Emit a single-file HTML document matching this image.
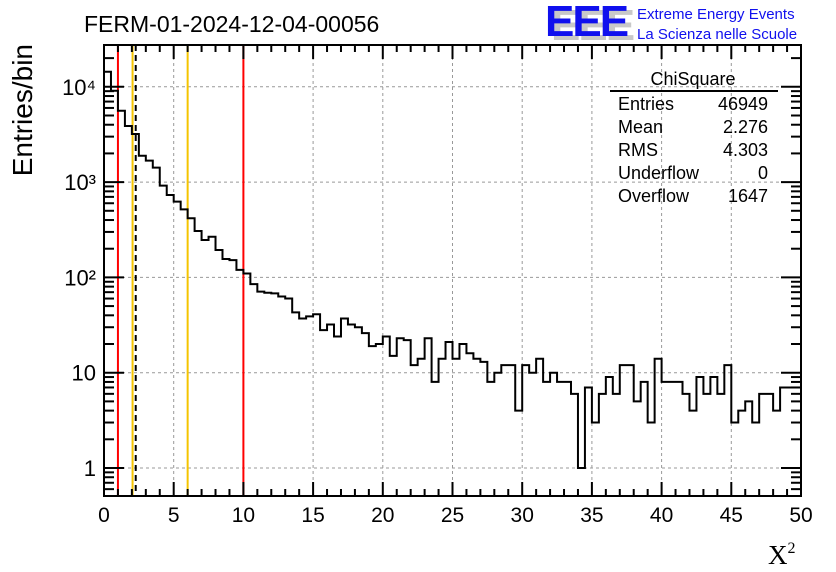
<!DOCTYPE html>
<html><head><meta charset="utf-8"><style>
body{margin:0;background:#fff;}
svg{display:block;font-family:"Liberation Sans",sans-serif;}
</style></head><body>
<svg id="c" width="836" height="572">
<text x="84" y="32" font-size="23">FERM-01-2024-12-04-00056</text>
<g>
<text x="551" y="40" font-size="44" font-weight="bold" fill="#c8c8c8" letter-spacing="-2">EEE</text>
<text x="545" y="36" font-size="44" font-weight="bold" fill="#1010ee" letter-spacing="-2">EEE</text>
<text x="637" y="19" font-size="15" fill="#1010ee">Extreme Energy Events</text>
<text x="637" y="39" font-size="15" fill="#1010ee">La Scienza nelle Scuole</text>
</g>
<text x="32" y="44" font-size="28" transform="rotate(-90 32 44)" text-anchor="end">Entries/bin</text>
<text x="768" y="564" font-size="27" font-family="Liberation Serif,serif">X<tspan font-size="16" dy="-11">2</tspan></text>
<g id="grid"></g><g id="lines"></g><g id="hist"></g><g id="axes"></g>
<g font-size="18">
<text x="693" y="85" text-anchor="middle">ChiSquare</text>
<line x1="610" y1="91" x2="778" y2="91" stroke="#000" stroke-width="2"/>
<text x="618" y="110">Entries</text><text x="768" y="110" text-anchor="end">46949</text>
<text x="618" y="133">Mean</text><text x="768" y="133" text-anchor="end">2.276</text>
<text x="618" y="156">RMS</text><text x="768" y="156" text-anchor="end">4.303</text>
<text x="618" y="179">Underflow</text><text x="768" y="179" text-anchor="end">0</text>
<text x="618" y="202">Overflow</text><text x="768" y="202" text-anchor="end">1647</text>
</g>
</svg>
<script>
const counts=[14400,9100,5600,3880,3200,1890,1680,1420,917,732,623,518,417,307,247,267,194,156,152,120,110,85,71,69,68,63,60,43,37,39,41,28,32,24,37,32,30,26,19,20,24,15,23,22,12,14,23,8,14,21,14,20,16,14,13,8,10,12,12,4,12,10,14,8,10,8,8,6,1,7,3,6,9,6,12,12,5,8,3,14,8,8,8,6,4,9,6,9,6,12,3,4,5,3,6,6,4,7,7,7];
const binWidth=0.5;
const xTicks=[0,5,10,15,20,25,30,35,40,45,50];
const yTickVals=[1,10,100,1000,10000];
const yTickLabels=["1","10","10²","10³","10⁴"];
const cutLines=[1,10];
const yellowLines=[2.05,6];
const meanVal=2.276;
const X0=104,X1=801,Y0=496,Y1=45;
const xs=v=>X0+(X1-X0)*v/50;
const ys=v=>468-95.3*Math.log10(v);
const NS="http://www.w3.org/2000/svg";
function mk(p,t,a){const e=document.createElementNS(NS,t);for(const k in a)e.setAttribute(k,a[k]);p.appendChild(e);return e;}
const grid=document.getElementById('grid'),lines=document.getElementById('lines'),hist=document.getElementById('hist'),axes=document.getElementById('axes');
xTicks.forEach(t=>{if(t>0&&t<50){const l=mk(grid,'line',{x1:xs(t),x2:xs(t),y1:Y1,y2:Y0,stroke:'#999','stroke-dasharray':'3,3'});

}});
yTickVals.forEach(v=>{const l=mk(grid,'line',{x1:X0,x2:X1,y1:ys(v),y2:ys(v),stroke:'#999','stroke-dasharray':'3,3'});

});
cutLines.forEach(v=>{const l=mk(lines,'line',{x1:xs(v),x2:xs(v),y1:Y1,y2:Y0,stroke:'#f00','stroke-width':2});

});
yellowLines.forEach(v=>{const l=mk(lines,'line',{x1:xs(v),x2:xs(v),y1:Y1,y2:Y0,stroke:'#f5c400','stroke-width':2});

});
const ml=mk(lines,'line',{x1:xs(meanVal),x2:xs(meanVal),y1:Y1,y2:Y0,stroke:'#000','stroke-width':2,'stroke-dasharray':'6,4'});


let d='M'+xs(0)+','+Y0;
counts.forEach((c,i)=>{const y=Math.min(Y0,ys(c));d+=' L'+xs(i*binWidth)+','+y+' L'+xs((i+1)*binWidth)+','+y;});
const hp=mk(hist,'path',{d:d,fill:'none',stroke:'#000','stroke-width':2});


const fr=mk(axes,'rect',{x:X0,y:Y1,width:X1-X0,height:Y0-Y1,fill:'none',stroke:'#000','stroke-width':2});


for(let v=0;v<=50;v+=1){const big=v%5===0,h=big?14:7;
mk(axes,'line',{x1:xs(v),x2:xs(v),y1:Y0,y2:Y0-h,stroke:'#000','stroke-width':2});
mk(axes,'line',{x1:xs(v),x2:xs(v),y1:Y1,y2:Y1+h,stroke:'#000','stroke-width':2});}
xTicks.forEach(t=>{const tx=mk(axes,'text',{x:xs(t),y:522,'font-size':21,'text-anchor':'middle'});tx.textContent=t;

});
for(let e=-1;e<=4;e++)for(let m=1;m<10;m++){const v=m*Math.pow(10,e);const y=ys(v);if(y<Y1||y>Y0)continue;const h=m===1?20:10;
mk(axes,'line',{x1:X0,x2:X0+h,y1:y,y2:y,stroke:'#000','stroke-width':2});
mk(axes,'line',{x1:X1,x2:X1-h,y1:y,y2:y,stroke:'#000','stroke-width':2});}
yTickVals.forEach((v,i)=>{const tx=mk(axes,'text',{x:96,y:ys(v)+8,'font-size':22,'text-anchor':'end'});tx.textContent=yTickLabels[i];

});
</script>
</body></html>
